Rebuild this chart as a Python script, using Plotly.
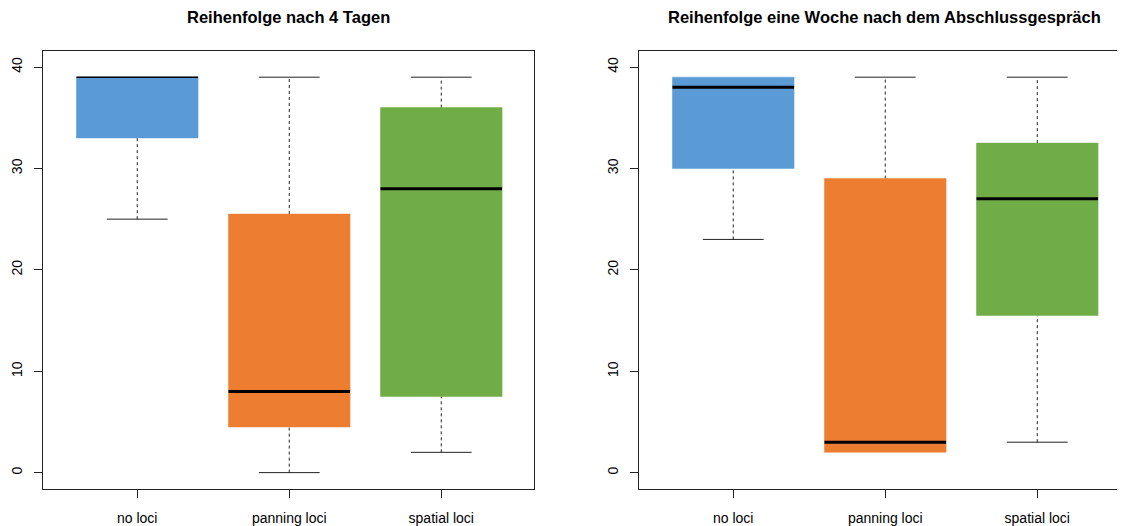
import plotly.graph_objects as go

OFF = 8  # browser body margin
W, H = 1125 - OFF, 526 - OFF

categories = ["no loci", "panning loci", "spatial loci"]
colors = ["#5B9BD5", "#ED7D31", "#70AD47"]
titles = ["Reihenfolge nach 4 Tagen",
          "Reihenfolge eine Woche nach dem Abschlussgespräch"]

# panel 1: nach 4 Tagen
p1_lower = [25, 0, 2]
p1_q1 = [33, 4.5, 7.5]
p1_median = [39, 8, 28]
p1_q3 = [39, 25.5, 36]
p1_upper = [39, 39, 39]

# panel 2: eine Woche nach dem Abschlussgespräch
p2_lower = [23, 2, 3]
p2_q1 = [30, 2, 15.5]
p2_median = [38, 3, 27]
p2_q3 = [39, 29, 32.5]
p2_upper = [39, 39, 39]

y_ticks = [0, 10, 20, 30, 40]

panels = [
    (p1_lower, p1_q1, p1_median, p1_q3, p1_upper),
    (p2_lower, p2_q1, p2_median, p2_q3, p2_upper),
]

FONT = "Liberation Sans, Arial, Helvetica, sans-serif"
BOXW = 0.8
CAPW = 0.4

fig = go.Figure()

# panel geometry in (screen) pixels
px_left = [43 - OFF, 639 - OFF]
px_width = 491
px_top, px_bottom = 51 - OFF, 490.7 - OFF
xrange_full = [0.38, 3.61]
yrange = [-1.6, 41.6]

for k, (lo, q1, med, q3, up) in enumerate(panels):
    xa = "x" if k == 0 else "x2"
    ya = "y" if k == 0 else "y2"
    xs = [1, 2, 3]
    # whiskers (dashed) and staples
    for i, x in enumerate(xs):
        if up[i] > q3[i]:
            fig.add_trace(go.Scatter(x=[x, x], y=[q3[i], up[i]], mode="lines",
                                     line=dict(color="#222", width=1, dash="3px,3px"),
                                     xaxis=xa, yaxis=ya, showlegend=False, hoverinfo="skip"))
            fig.add_trace(go.Scatter(x=[x - CAPW / 2, x + CAPW / 2], y=[up[i], up[i]], mode="lines",
                                     line=dict(color="#222", width=1),
                                     xaxis=xa, yaxis=ya, showlegend=False, hoverinfo="skip"))
        if lo[i] < q1[i]:
            fig.add_trace(go.Scatter(x=[x, x], y=[lo[i], q1[i]], mode="lines",
                                     line=dict(color="#222", width=1, dash="3px,3px"),
                                     xaxis=xa, yaxis=ya, showlegend=False, hoverinfo="skip"))
            fig.add_trace(go.Scatter(x=[x - CAPW / 2, x + CAPW / 2], y=[lo[i], lo[i]], mode="lines",
                                     line=dict(color="#222", width=1),
                                     xaxis=xa, yaxis=ya, showlegend=False, hoverinfo="skip"))
    # boxes
    for i, x in enumerate(xs):
        fig.add_trace(go.Scatter(
            x=[x - BOXW / 2, x + BOXW / 2, x + BOXW / 2, x - BOXW / 2, x - BOXW / 2],
            y=[q1[i], q1[i], q3[i], q3[i], q1[i]],
            mode="lines", fill="toself", fillcolor=colors[i],
            line=dict(color=colors[i], width=0.5),
            xaxis=xa, yaxis=ya, showlegend=False, hoverinfo="skip"))
    # medians (thin when coinciding with the box edge, as in the source)
    for i, x in enumerate(xs):
        lw = 1.5 if med[i] == q3[i] else 3
        fig.add_trace(go.Scatter(x=[x - BOXW / 2, x + BOXW / 2], y=[med[i], med[i]], mode="lines",
                                 line=dict(color="black", width=lw),
                                 xaxis=xa, yaxis=ya, showlegend=False, hoverinfo="skip"))

ydom = [1 - px_bottom / H, 1 - px_top / H]
ppu = px_width / (xrange_full[1] - xrange_full[0])

axis_common = dict(showgrid=False, zeroline=False, showline=True, linecolor="#222", linewidth=1,
                   ticks="outside", ticklen=8, tickcolor="#222",
                   tickfont=dict(family=FONT, size=14, color="black"))

xd1 = [px_left[0] / W, (px_left[0] + px_width) / W]
xd2 = [px_left[1] / W, 1.0]
xr2 = [xrange_full[0], xrange_full[0] + (W - px_left[1]) / ppu]

fig.update_layout(
    width=W, height=H, margin=dict(l=0, r=0, t=0, b=0),
    paper_bgcolor="white", plot_bgcolor="white", showlegend=False,
    xaxis=dict(domain=xd1, range=xrange_full, tickvals=[1, 2, 3], ticktext=categories,
               mirror=True, anchor="y", ticklabelstandoff=8, **axis_common),
    yaxis=dict(domain=ydom, range=yrange, tickvals=y_ticks, tickangle=-90, mirror=True,
               anchor="x", ticklabelstandoff=6, **axis_common),
    xaxis2=dict(domain=xd2, range=xr2, tickvals=[1, 2, 3], ticktext=categories,
                mirror=True, anchor="y2", ticklabelstandoff=8, **axis_common),
    yaxis2=dict(domain=ydom, range=yrange, tickvals=y_ticks, tickangle=-90, mirror=False,
                anchor="x2", ticklabelstandoff=6, **axis_common),
)

centers = [(px_left[0] + px_width / 2) / W, (px_left[1] + px_width / 2) / W]
for c, t in zip(centers, titles):
    fig.add_annotation(x=c, y=1 - (17 - OFF) / H, xref="paper", yref="paper", text="<b>%s</b>" % t,
                       showarrow=False, xanchor="center", yanchor="middle",
                       font=dict(family=FONT, size=16.5, color="black"))

fig.write_html("out.html")
